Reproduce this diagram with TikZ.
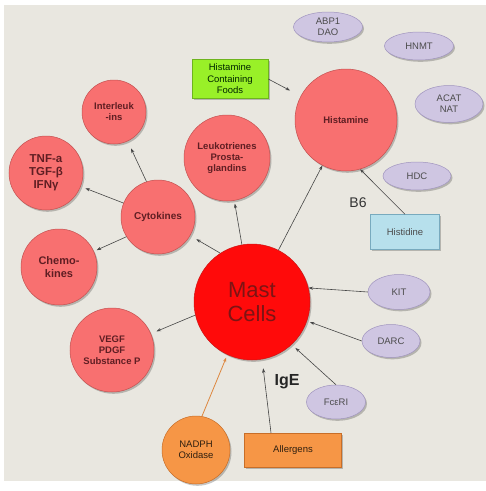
\documentclass[tikz,border=0pt]{standalone}
\usepackage{fontspec}
\setmainfont{Liberation Sans}
\usetikzlibrary{arrows.meta,positioning,shapes.geometric,shadows}
\definecolor{bgbeige}{RGB}{233,231,224}
\definecolor{salmon}{RGB}{248,112,112}
\definecolor{salmonline}{RGB}{196,80,80}
\definecolor{mastred}{RGB}{255,10,10}
\definecolor{mastline}{RGB}{205,20,20}
\definecolor{mastText}{RGB}{125,20,20}
\definecolor{darkberry}{RGB}{95,30,35}
\definecolor{lavender}{RGB}{207,198,226}
\definecolor{lavline}{RGB}{160,148,190}
\definecolor{limegreen}{RGB}{153,240,40}
\definecolor{limeline}{RGB}{110,180,30}
\definecolor{icyblue}{RGB}{183,224,236}
\definecolor{icyline}{RGB}{120,170,190}
\definecolor{tangerine}{RGB}{246,150,70}
\definecolor{tangline}{RGB}{200,110,40}
\definecolor{arrowgray}{RGB}{70,70,70}
\tikzset{
  shade/.style={drop shadow={shadow xshift=1.5pt,shadow yshift=-1.8pt,opacity=0.22,fill=black}},
  mednode/.style={circle,draw=salmonline,line width=0.5pt,fill=salmon,align=center,inner sep=0pt,
    font=\bfseries\fontsize{9.5}{11}\selectfont,text=darkberry,shade},
  mastnode/.style={circle,draw=mastline,line width=0.5pt,fill=mastred,align=center,inner sep=0pt,
    minimum size=116pt,font=\fontsize{22}{24}\selectfont,text=mastText,shade},
  enznode/.style={ellipse,draw=lavline,line width=0.5pt,fill=lavender,align=center,inner sep=0pt,
    font=\fontsize{9.5}{11}\selectfont,text=black!70,shade},
  boxnode/.style={rectangle,line width=0.5pt,align=center,inner sep=0pt,
    font=\fontsize{9.5}{11.5}\selectfont,shade},
  arr/.style={-{Stealth[length=4.5pt,width=3.2pt]},line width=0.6pt,draw=arrowgray},
  orangearr/.style={arr,draw=tangerine!90!black,line width=0.8pt}
}
\begin{document}
\begin{tikzpicture}[x=1pt,y=-1pt]
  \useasboundingbox (0,0) rectangle (486,491);
  \fill[bgbeige] (4,5) rectangle (486,481);
  % central cell and histamine side
  \node[mastnode] (mast) at (252,302) {Mast\\Cells};
  \node[mednode,minimum size=102pt] (hist) at (346,120) {Histamine};
  \node[boxnode,draw=limeline,fill=limegreen,text=black!75!green!60!black,minimum width=76pt,minimum height=39pt]
    (foods) at (230,79) {Histamine\\Containing\\Foods};
  \node[boxnode,draw=icyline,fill=icyblue,text=black!70,minimum width=69pt,minimum height=35pt]
    (histidine) at (405,232) {Histidine};
  \node[font=\fontsize{14}{16}\selectfont,text=black!80] (b6) at (358,203) {B6};
  \node[enznode,minimum width=69pt,minimum height=30pt] (abp) at (328,27) {ABP1\\DAO};
  \node[enznode,minimum width=69pt,minimum height=28pt] (hnmt) at (419,46) {HNMT};
  \node[enznode,minimum width=68pt,minimum height=37pt] (acat) at (449,104) {ACAT\\NAT};
  \node[enznode,minimum width=68pt,minimum height=28pt] (hdc) at (417,176) {HDC};
  % mediators
  \node[mednode,minimum size=86pt] (leuko) at (227,158) {Leukotrienes\\Prosta-\\glandins};
  \node[mednode,minimum size=74pt,font=\bfseries\fontsize{10}{12}\selectfont] (cyto) at (158,217) {Cytokines};
  \node[mednode,minimum size=64pt] (inter) at (114,112) {Interleuk\\-ins};
  \node[mednode,minimum size=74pt,font=\bfseries\fontsize{11.5}{13}\selectfont] (tnf) at (46,173) {TNF-a\\TGF-β\\IFNγ};
  \node[mednode,minimum size=76pt,font=\bfseries\fontsize{11}{13}\selectfont] (chemo) at (59,267) {Chemo-\\kines};
  \node[mednode,minimum size=84pt] (vegf) at (112,350) {VEGF\\PDGF\\Substance P};
  % receptors and triggers
  \node[enznode,minimum width=62pt,minimum height=35pt] (kit) at (399,292) {KIT};
  \node[enznode,minimum width=58pt,minimum height=33pt] (darc) at (391,341) {DARC};
  \node[enznode,minimum width=59pt,minimum height=34pt] (fcer) at (336,402) {FcεRI};
  \node[font=\bfseries\fontsize{16}{18}\selectfont,text=black!85] (ige) at (287,382) {IgE};
  \node[circle,draw=tangline,line width=0.5pt,fill=tangerine,minimum size=68pt,inner sep=0pt,align=center,
    font=\fontsize{9.5}{11.5}\selectfont,text=black!75!brown,shade] (nadph) at (196,450) {NADPH\\Oxidase};
  \node[boxnode,draw=tangline,fill=tangerine,text=black!75!brown,minimum width=97pt,minimum height=34pt]
    (allergens) at (293,450) {Allergens};
  % connectors
  \draw[arr,shorten >=12pt] (foods.east) -- (hist);
  \draw[arr] (mast.63) -- (hist);
  \draw[arr] (histidine.north) -- (hist.-74);
  \draw[arr,shorten >=3pt] (mast.100) -- (leuko);
  \draw[arr,shorten >=7pt] (mast.123) -- (cyto);
  \draw[arr,shorten >=8pt] (cyto.108) -- (inter);
  \draw[arr,shorten >=5pt] (cyto.158) -- (tnf);
  \draw[arr,shorten >=3pt] (cyto.212) -- (chemo);
  \draw[arr,shorten >=6pt] (mast.193) -- (vegf);
  \draw[orangearr,shorten >=3pt] (nadph.80) -- (mast.-115);
  \draw[arr,shorten >=9pt] ([xshift=-22pt]allergens.north) -- (mast.-80);
  \draw[arr,shorten >=5pt] (fcer.north) -- (mast.-47);
  \draw[arr,shorten >=3pt] (darc.west) -- (mast.-19);
  \draw[arr] (kit.west) -- (mast.14);
\end{tikzpicture}
\end{document}
